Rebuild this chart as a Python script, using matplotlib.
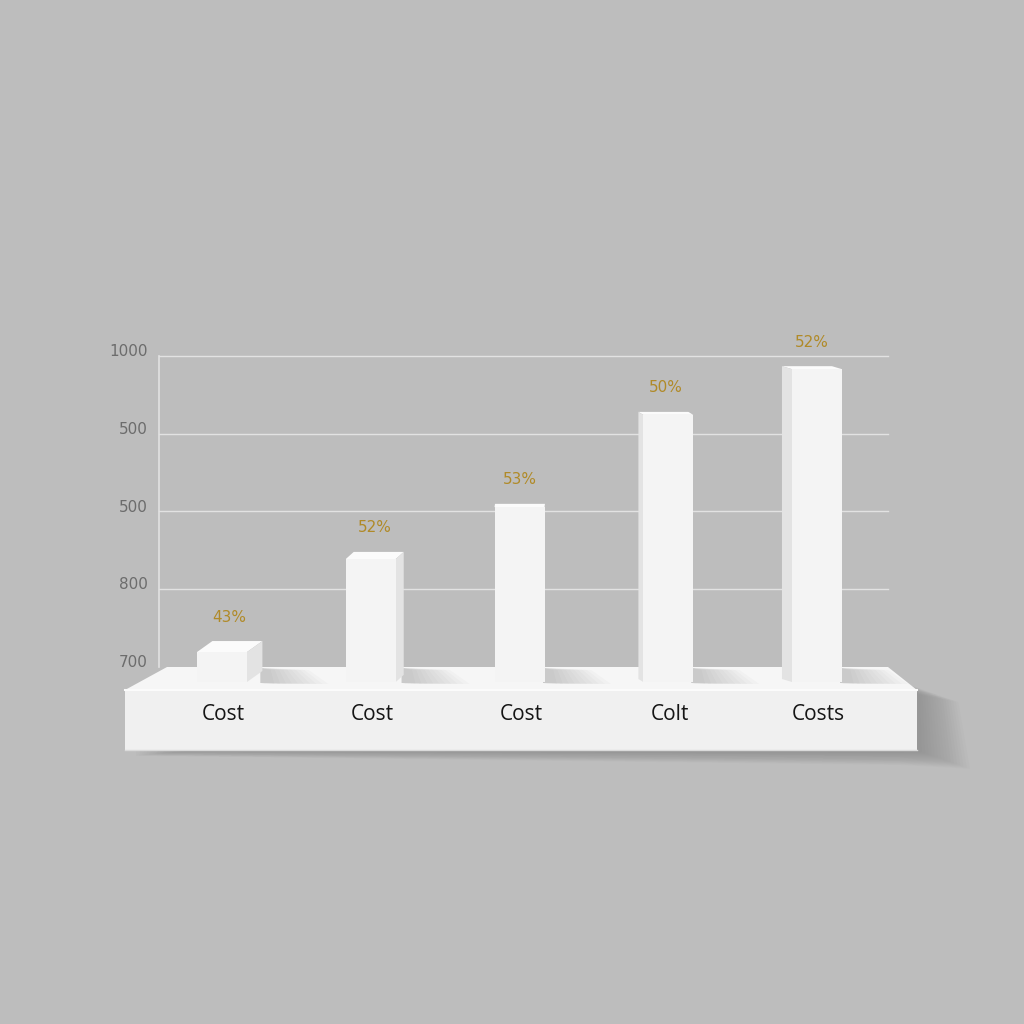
import matplotlib
matplotlib.use("Agg")
import matplotlib.pyplot as plt
from matplotlib.patches import Polygon, Rectangle
import numpy as np

# ---- data ----
categories = ["Cost", "Cost", "Cost", "Colt", "Costs"]
values = [718, 838, 905, 1024, 1083]
pct_labels = ["43%", "52%", "53%", "50%", "52%"]
tick_values = [700, 800, 900, 1000, 1100]
tick_labels = ["700", "800", "500", "500", "1000"]

# ---- layout helpers (pixel geometry of the scene) ----
PX_PER_CAT = 148.75      # pixels per category step
PX_PER_VAL = 0.775       # pixels per value unit
X0_PX = 222.0            # pixel x of first category
Y700_PX = 666.0          # pixel y (from top) of value 700
W = H = 1024

def vx(px):  # pixel x -> data x
    return (px - X0_PX) / PX_PER_CAT

def vy(py):  # pixel y (from top) -> data value
    return 700 + (Y700_PX - py) / PX_PER_VAL

BG = "#bdbdbd"
fig = plt.figure(figsize=(10.24, 10.24), dpi=100, facecolor=BG)
ax = fig.add_axes([0, 0, 1, 1])
ax.set_facecolor(BG)
ax.set_xlim(vx(0), vx(W))
ax.set_ylim(vy(H), vy(0))
ax.axis("off")

# ---- grid and axis ----
gx0, gx1 = vx(159), vx(888)
for tv, tl in zip(tick_values, tick_labels):
    if tv > 700:
        ax.plot([gx0, gx1], [tv, tv], color="#e2e2e2", lw=1.0, zorder=1)
    ax.text(vx(148), tv + 4 / PX_PER_VAL, tl, ha="right", va="center",
            fontsize=11, color="#6c6c6c", family="DejaVu Sans", zorder=2)
ax.plot([gx0, gx0], [vy(667), tick_values[-1]], color="#e2e2e2", lw=1.2, zorder=1)

# ---- base platform ----
bottom_val = vy(682)
base_back = vy(667)
base_front = vy(690)
base_bottom = vy(750)

# soft shadow to the right / below the base
for i in range(16):
    g = i * 1.6
    shadow = Polygon([(vx(910), vy(690 - g * 0.2)),
                      (vx(920 + g * 1.6), vy(695 + g * 0.3)),
                      (vx(922 + g * 2.0), vy(752 + g * 0.7)),
                      (vx(900), vy(753 + g * 0.5)),
                      (vx(135), vy(751 + g * 0.2))],
                     closed=True, facecolor="#6a6a6a", edgecolor="none",
                     alpha=0.03, zorder=2)
    ax.add_patch(shadow)

top_surface = Polygon([(vx(167), base_back), (vx(888), base_back),
                       (vx(917), base_front), (vx(125), base_front)],
                      closed=True, facecolor="#f6f6f6", edgecolor="none", zorder=3)
ax.add_patch(top_surface)
front_face = Rectangle((vx(125), base_bottom), vx(917) - vx(125),
                       base_front - base_bottom, facecolor="#f0f0f0",
                       edgecolor="none", zorder=3)
ax.add_patch(front_face)
ax.plot([vx(125), vx(917)], [base_front, base_front], color="#fbfbfb", lw=1.5, zorder=4)
ax.plot([vx(125), vx(917)], [base_bottom, base_bottom], color="#dadada", lw=1.0, zorder=4)

# ---- bars with pseudo-3D faces ----
VP = 530.0
bar_w = 50 / PX_PER_CAT
xs = np.arange(len(values))

# soft bar shadows on base top
for x in xs:
    cx = X0_PX + x * PX_PER_CAT
    xr = cx + 25 + max(0.0, 0.05 * (VP - cx))
    for i in range(10):
        ln = 12 + i * 6
        shp = Polygon([(vx(xr - 2), vy(683)), (vx(xr + ln), vy(684)),
                       (vx(xr + ln * 0.7), vy(670)), (vx(xr - 2), vy(668))],
                      closed=True, facecolor="#808080", edgecolor="none",
                      alpha=0.04, zorder=4)
        ax.add_patch(shp)

ax.bar(xs, [v - bottom_val for v in values], bottom=bottom_val, width=bar_w,
       color="#f4f4f4", edgecolor="none", zorder=7)

for x, v, pl in zip(xs, values, pct_labels):
    cx = X0_PX + x * PX_PER_CAT
    ddx = 0.05 * (VP - cx) if cx < VP else 0.035 * (VP - cx)
    ddy = 3 + 0.026 * max(0.0, VP - cx)
    dxd = ddx / PX_PER_CAT
    dyd = ddy / PX_PER_VAL
    xl, xr = x - bar_w / 2, x + bar_w / 2
    top = Polygon([(xl, v), (xr, v), (xr + dxd, v + dyd), (xl + dxd, v + dyd)],
                  closed=True, facecolor="#fbfbfb", edgecolor="none", zorder=6)
    ax.add_patch(top)
    if ddx > 0.5:
        sx = xr
    elif ddx < -0.5:
        sx = xl
    else:
        sx = None
    if sx is not None:
        side = Polygon([(sx, bottom_val), (sx, v), (sx + dxd, v + dyd),
                        (sx + dxd, bottom_val + dyd)],
                       closed=True, facecolor="#e3e3e3", edgecolor="none", zorder=6)
        ax.add_patch(side)
    ax.text(x + dxd / 2, v + dyd + 24 / PX_PER_VAL, pl, ha="center", va="center",
            fontsize=11, color="#b08a28", family="DejaVu Sans", zorder=8)

# category labels on the base front
for x, c in zip(xs, categories):
    ax.text(x + 0.01, vy(715), c, ha="center", va="center", fontsize=15,
            color="#151515", family="Open Sans", zorder=8)

fig.savefig("out.png", dpi=100, facecolor=BG)
